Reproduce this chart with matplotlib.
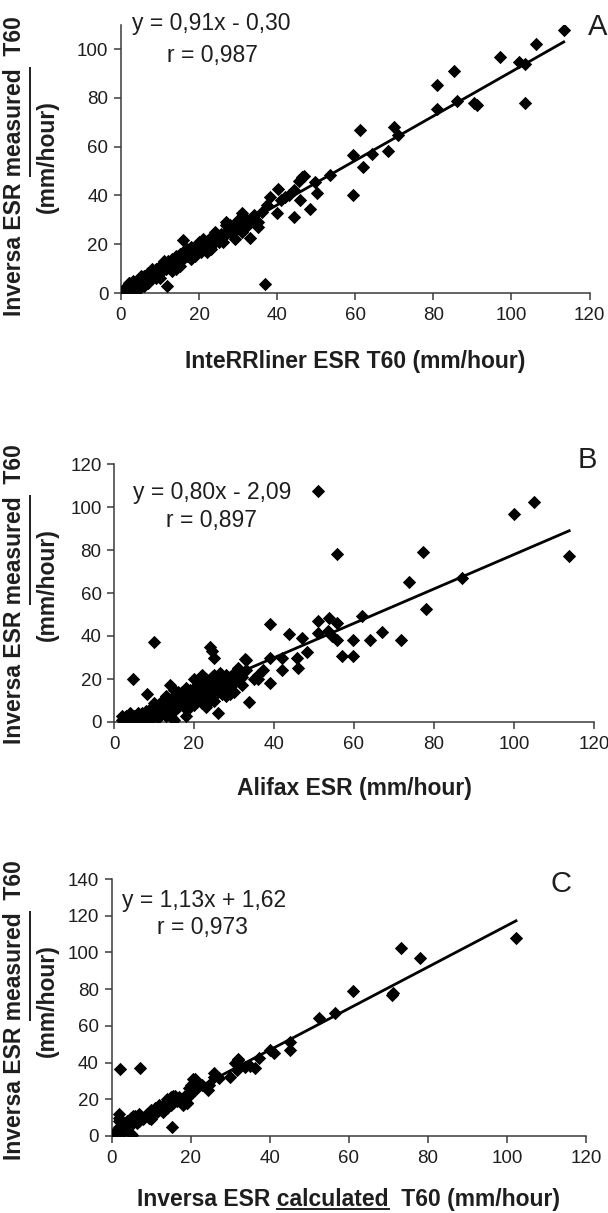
import numpy as np
import matplotlib
matplotlib.use("Agg")
import matplotlib.pyplot as plt
from matplotlib.lines import Line2D

W, H, DPI = 608, 1213, 100

# panel A: InteRRliner vs Inversa measured
A_x = [0.5, 1, 1, 1.5, 1.5, 2, 2, 2, 2.5, 3,
       3, 3, 3.5, 4, 4, 4.5, 5, 5, 5.5, 6,
       6, 6.5, 7, 7, 7.5, 8, 8, 8.5, 9, 9,
       9.5, 10, 10, 10.5, 11, 11, 11.5, 12, 12.5, 13,
       13, 13.5, 14, 14, 14.5, 15, 15, 15.5, 16, 16.5,
       17, 17, 17.5, 18, 18, 18.5, 19, 19, 19.5, 20,
       20, 20.5, 21, 21, 21.5, 22, 22.5, 23, 23, 23.5,
       24, 24.5, 25, 25.5, 26, 27, 27, 28, 29, 29.5,
       30, 30.5, 31, 31.5, 32, 33, 33.5, 34, 35, 16,
       11.7, 36.9, 26.9, 29.2, 30.9, 33.1, 33.9, 35.2, 38.2, 39.9,
       40.3, 42, 44.2, 44.2, 45.9, 48.3, 46.3, 47, 49.7, 50.2,
       53.6, 59.4, 59.4, 62, 64.4, 68.5, 61.3, 70, 70.9, 81,
       81, 85.2, 86, 90.3, 91.2, 97.2, 102, 103.4, 103.4, 106.2,
       113.4, 36, 37.5, 41, 43, 45.5,
       2, 4, 6, 8, 10, 12, 14, 16, 18, 20,
       22, 24, 26, 28, 30, 32, 3, 5, 7, 9,
       11, 13, 15, 17, 19, 21, 23, 25, 27, 31]
A_y = [1, 0, 2, 1, 3, 1, 2, 4, 2, 2,
       3, 5, 3, 3, 5, 4, 4, 6, 5, 5,
       7, 6, 6, 8, 6, 7, 9, 8, 8, 10,
       8, 9, 11, 9, 10, 12, 10, 11, 12, 11,
       14, 12, 12, 15, 13, 13, 16, 14, 14, 15,
       15, 17, 16, 16, 19, 16, 17, 19, 18, 18,
       20, 17, 19, 21, 19, 20, 22, 20, 21, 23,
       21, 22, 23, 24, 23, 25, 24, 28, 26, 26,
       28, 29, 28, 31, 29, 30, 30, 32, 29, 21.7,
       2.9, 3.7, 29.2, 22, 32.7, 22.4, 31.3, 27.2, 39.5, 32.7,
       42.5, 39.5, 31.3, 42.2, 38.1, 34.3, 47.7, 48, 45.6, 41.1,
       48.4, 56.6, 40.2, 51.8, 56.8, 58.3, 67, 68.2, 64.7, 85.2,
       75.3, 91, 78.7, 77.7, 77, 96.9, 94.8, 93.9, 78, 102,
       107.8, 33, 36, 38, 40, 46,
       4, 1, 3, 10, 6, 13, 10, 17, 14, 21,
       17, 25, 21, 25, 30, 27, 0.5, 7, 4, 6,
       13, 9, 11, 18, 15, 22, 18, 21, 28, 25]

# panel B: Alifax vs Inversa measured
B_x = [2, 2, 2.5, 3, 3, 3.5, 4, 4, 4.5, 5,
       5, 5.5, 6, 6, 6.5, 7, 7, 7.5, 8, 8,
       8.5, 9, 9, 9.5, 10, 10, 11, 11, 11.5, 12,
       12, 12.5, 13, 13, 13.5, 14, 14, 14.5, 14.5, 15,
       15, 15, 15.5, 16, 16, 16.5, 17, 17, 17.5, 18,
       18, 18.5, 19, 19, 19.5, 20, 20, 20, 20.5, 21,
       21, 21.5, 22, 22, 22.5, 23, 23, 23.5, 24, 24,
       24.5, 25, 25, 25.5, 26, 26, 26.5, 27, 27, 28,
       28, 29, 29, 30, 30, 30.5, 31, 31, 32, 32,
       33, 33, 10, 4.7, 8.2, 24, 24.5, 25, 33.8, 32.8,
       36.1, 37.3, 39, 39, 39, 41.9, 41.9, 43.8, 45.7, 46.1,
       46.9, 48.2, 51, 51.1, 51.1, 53.7, 53.6, 55.8, 55.8, 55.8,
       57.1, 54.5, 59.8, 59.8, 61.9, 64, 66.9, 71.8, 73.8, 77.2,
       78, 87.1, 100, 105, 113.8, 35, 36,
       3, 4, 5, 6, 7, 8, 9, 10, 11, 12,
       13, 14, 15, 16, 17, 18, 19, 20, 21, 22,
       23, 24, 25, 26, 27, 28, 29, 30, 31, 18]
B_y = [1, 3, 2, 1, 3, 2, 1, 4, 2, 1,
       3, 2, 1, 4, 2, 3, 1, 2, 5, 1,
       3, 2, 6, 5, 3, 9, 6, 2, 8, 4,
       10, 7, 3, 12, 6, 8, 17, 2, 11, 5,
       1, 15, 9, 7, 12, 10, 8, 14, 11, 6,
       13, 9, 15, 12, 10, 20, 8, 16, 13, 11,
       19, 14, 9, 17, 12, 20, 7, 15, 18, 13,
       21, 16, 10, 19, 14, 4, 23, 17, 20, 12,
       16, 21, 18, 23, 14, 19, 22, 25, 17, 21,
       24, 29, 37.4, 19.8, 13, 35, 33, 30, 9.4, 29.2,
       19.9, 24.2, 18, 29.6, 45.4, 29.6, 24.2, 40.8, 29.6, 25,
       38.9, 32.4, 47, 41.2, 107.6, 48.5, 42.5, 46.2, 38.1, 78.1,
       30.7, 40, 38.1, 30.8, 49.4, 38.1, 42, 38.1, 65.3, 78.9,
       52.4, 67.1, 96.7, 102.2, 77.4, 20, 22,
       0.5, 2.5, 0.5, 2.5, 4, 3, 1, 6, 4, 6,
       9, 5, 11, 14, 10, 16, 7, 11, 15, 22,
       17, 10, 22, 19, 13, 22, 13, 18, 21, 3]

# panel C: Inversa calculated vs Inversa measured
C_x = [0.5, 1, 1, 1.5, 2, 2, 2, 2, 2, 2.5,
       3, 4, 5, 5, 5.5, 6, 6, 7, 7, 7.5,
       8, 9, 10, 10, 10.5, 11, 12, 12, 13, 13,
       13.5, 14, 14, 14.5, 15, 15, 15.5, 16, 16, 16.5,
       17, 18, 18.5, 19, 19, 19.5, 20, 20, 20.5, 21,
       21, 2.2, 7.2, 15.2, 5.1, 19, 19.4, 20.7, 23, 24.5,
       24.7, 25.8, 26, 27.3, 30, 31.3, 31.8, 32.1, 33.8, 36.3,
       37.2, 40.1, 41, 45.2, 45.2, 52.4, 56.4, 61.2, 71, 71.1,
       73.2, 78.1, 102.3, 32, 35,
       3, 4, 5.5, 6.5, 8.5, 9.5, 11.5, 12.5, 14, 15.5,
       17.5, 18, 19.5, 21.5, 22]
C_y = [1, 0, 2, 1, 3, 5, 8, 10, 12, 1,
       4, 8, 1, 10, 7, 9, 11, 8, 12, 10,
       9, 12, 9, 14, 13, 15, 14, 17, 13, 16,
       18, 16, 20, 19, 17, 21, 18, 20, 22, 19,
       21, 20, 19, 23, 18, 26, 24, 28, 27, 31,
       25, 36.3, 37.2, 5.1, 0.5, 17.8, 23.3, 30.9, 28, 25.1,
       27.8, 34.2, 32, 31.4, 32, 39.6, 36, 41.4, 37.8, 36.9,
       42.3, 46.9, 45, 46.9, 51.4, 64.5, 67.2, 79, 77, 77.8,
       102.3, 97.2, 107.7, 42, 38,
       6, 6, 11, 7, 11, 10, 13, 15, 15, 22,
       20, 17, 22, 29, 27]

slopes = [0.91, 0.80, 1.13]
intercepts = [-0.30, -2.09, 1.62]
equations = ["y = 0,91x - 0,30", "y = 0,80x - 2,09", "y = 1,13x + 1,62"]
r_texts = ["r = 0,987", "r = 0,897", "r = 0,973"]
letters = ["A", "B", "C"]
x_labels = ["InteRRliner ESR T60 (mm/hour)", "Alifax ESR (mm/hour)",
            "Inversa ESR calculated  T60 (mm/hour)"]
y_label = "Inversa ESR measured  T60"
y_label2 = "(mm/hour)"
y_tops = [110, 120, 140]

plt.rcParams["font.family"] = ["Liberation Sans", "DejaVu Sans"]
AX_COL = "#3a3a3a"
TXT_COL = "#1e1e1e"

fig = plt.figure(figsize=(W / DPI, H / DPI), dpi=DPI)

# axes boxes in pixels: left, top, right, bottom
boxes = [(121, 24.6, 589.5, 293), (114, 464, 594, 722), (111.5, 879, 586, 1136)]
eq_pos = [((2.8, 107.8), (11.8, 94.7)), ((4.8, 103.7), (13, 90.7)), ((2.7, 124.8), (11.5, 110))]
letter_pos = [(119.5, 105.7), (116, 118), (111, 133)]
xlab_y = [368, 795, 1206]
ylab_cy = [166, 594, 1010]

datasets = [(A_x, A_y), (B_x, B_y), (C_x, C_y)]
axes = []
for i, (l, t, r, b) in enumerate(boxes):
    ax = fig.add_axes([l / W, 1 - b / H, (r - l) / W, (b - t) / H])
    xs, ys = datasets[i]
    ax.scatter(xs, ys, marker="D", s=46, color="black", linewidths=0, zorder=3)
    xx = np.array([min(xs), max(xs)])
    ax.plot(xx, slopes[i] * xx + intercepts[i], color="black", lw=2.0, zorder=4)
    ax.set_xlim(0, 120)
    ax.set_ylim(0, y_tops[i])
    ax.set_xticks(range(0, 121, 20))
    ax.set_yticks(range(0, y_tops[i] + 1, 20) if y_tops[i] % 20 == 0 else range(0, 101, 20))
    for s in ["top", "right"]:
        ax.spines[s].set_visible(False)
    for s in ["left", "bottom"]:
        ax.spines[s].set_color(AX_COL)
        ax.spines[s].set_linewidth(1.1)
    ax.tick_params(direction="out", length=5, width=1.1, color=AX_COL,
                   labelsize=13.5, labelcolor=TXT_COL)
    ax.tick_params(axis="x", pad=5)
    ax.tick_params(axis="y", pad=4)
    (ex, ey), (rx, ry) = eq_pos[i]
    ax.text(ex, ey, equations[i], fontsize=16.5, color=TXT_COL, clip_on=False)
    ax.text(rx, ry, r_texts[i], fontsize=16.5, color=TXT_COL, clip_on=False)
    ax.text(*letter_pos[i], letters[i], fontsize=21, color=TXT_COL, clip_on=False)
    axes.append(ax)

xlabels = []
ylabels = []
for i, (l, t, r, b) in enumerate(boxes):
    xl = fig.text((l + r) / 2 / W, 1 - xlab_y[i] / H, x_labels[i], fontsize=16.5,
                  fontweight="bold", ha="center", va="baseline", color=TXT_COL)
    xlabels.append(xl)
    yl = fig.text(21 / W, 1 - ylab_cy[i] / H, y_label, fontsize=16.5, fontweight="bold",
                  rotation=90, rotation_mode="anchor", ha="center", va="baseline",
                  color=TXT_COL)
    ylabels.append(yl)
    fig.text(54 / W, 1 - (ylab_cy[i] - 9) / H, y_label2, fontsize=16.5, fontweight="bold",
             rotation=90, rotation_mode="anchor", ha="center", va="baseline",
             color=TXT_COL)

fig.canvas.draw()
rend = fig.canvas.get_renderer()


def underline(txt, word, gap, vertical):
    s = txt.get_text()
    k = s.index(word)
    prop = txt.get_fontproperties()
    w_full, _, d_full = rend.get_text_width_height_descent(s, prop, ismath=False)
    w_pre, _, _ = rend.get_text_width_height_descent(s[:k + len(word)], prop, ismath=False)
    w_word, _, _ = rend.get_text_width_height_descent(word, prop, ismath=False)
    _, _, d_lp = rend.get_text_width_height_descent("lp", prop, ismath=False)
    d = max(d_full, d_lp)
    bb = txt.get_window_extent(rend)
    inv = fig.transFigure.inverted()
    if vertical:
        y0 = bb.y0 + (w_pre - w_word)
        y1 = bb.y0 + w_pre
        xb = bb.x1 - d + gap
        p0, p1 = inv.transform([(xb, y0), (xb, y1)])
    else:
        x0 = bb.x0 + (w_pre - w_word)
        x1 = bb.x0 + w_pre
        yb = bb.y0 + d - gap
        p0, p1 = inv.transform([(x0, yb), (x1, yb)])
    fig.add_artist(Line2D([p0[0], p1[0]], [p0[1], p1[1]], color=TXT_COL, lw=1.4,
                          transform=fig.transFigure))


for yl in ylabels:
    underline(yl, "measured", 9, True)
underline(xlabels[2], "calculated", 2.5, False)

fig.savefig("out.png", dpi=DPI)
